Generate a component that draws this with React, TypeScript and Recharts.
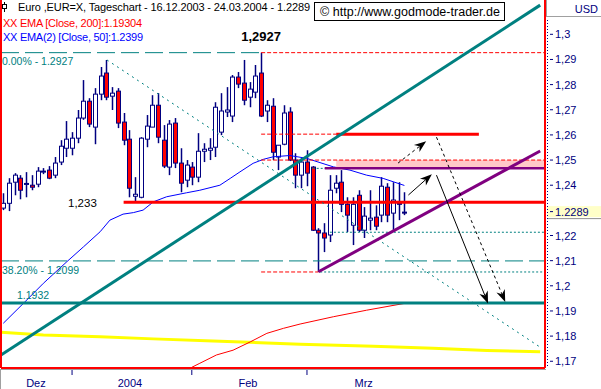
import React from 'react';
import {
  ComposedChart,
  Bar,
  Line,
  XAxis,
  YAxis,
  ReferenceLine,
  ReferenceArea,
  ReferenceDot,
} from 'recharts';

const W = 601;
const H = 389;

const NAVY = '#000080';
const TEAL = '#008080';
const RED = '#ff0000';
const PURPLE = '#800080';
const FONT = '"Liberation Sans", Arial, sans-serif';

// EUR/USD daily, 16.12.2003 - 24.03.2004 (x = trading day index)
const opens = [
  1.2309, 1.2328, 1.2412, 1.2428, 1.2405, 1.24, 1.2404, 1.2452, 1.246, 1.244,
  1.2492, 1.2547, 1.2547, 1.2587, 1.2667, 1.2734, 1.2631, 1.2762, 1.2846, 1.2754,
  1.2774, 1.2651, 1.2583, 1.2356, 1.2352, 1.2583, 1.2631, 1.2718, 1.2579, 1.2472,
  1.2647, 1.2488, 1.242, 1.2472, 1.2432, 1.2535, 1.2539, 1.2551, 1.2611, 1.2691,
  1.2675, 1.283, 1.2806, 1.275, 1.277, 1.2846, 1.2695, 1.2714, 1.2512, 1.2563,
  1.2691, 1.25, 1.244, 1.2492, 1.2472, 1.2221, 1.221, 1.2202, 1.2388, 1.2412,
  1.2324, 1.2241, 1.236, 1.2221, 1.2261, 1.2273, 1.2281, 1.2392, 1.2289, 1.2328,
  1.2293,
];
const highs = [
  1.2368, 1.2428, 1.2448, 1.244, 1.2452, 1.244, 1.2472, 1.2468, 1.2476, 1.2512,
  1.2579, 1.2655, 1.2611, 1.2699, 1.2818, 1.2746, 1.2786, 1.287, 1.2898, 1.279,
  1.2786, 1.2687, 1.2619, 1.2432, 1.2591, 1.2679, 1.2758, 1.2766, 1.2639, 1.2659,
  1.2667, 1.2547, 1.25, 1.2492, 1.2607, 1.2567, 1.2587, 1.273, 1.2766, 1.279,
  1.2838, 1.285, 1.2898, 1.281, 1.2878, 1.2927, 1.2738, 1.2746, 1.2559, 1.2718,
  1.271, 1.2527, 1.2508, 1.2539, 1.2476, 1.2229, 1.2249, 1.244, 1.244, 1.246,
  1.2352, 1.2352, 1.238, 1.2313, 1.238, 1.232, 1.2432, 1.2408, 1.2412, 1.2412,
  1.2372,
];
const lows = [
  1.2301, 1.2297, 1.236, 1.2344, 1.2352, 1.238, 1.2392, 1.2444, 1.2424, 1.2428,
  1.248, 1.2512, 1.2519, 1.2567, 1.266, 1.2631, 1.2563, 1.2738, 1.2738, 1.2699,
  1.2627, 1.2559, 1.2352, 1.2332, 1.2348, 1.2551, 1.2631, 1.2567, 1.2468, 1.244,
  1.2468, 1.2372, 1.2392, 1.24, 1.2412, 1.2492, 1.25, 1.2512, 1.2599, 1.2671,
  1.2651, 1.2786, 1.2718, 1.271, 1.2746, 1.2671, 1.2651, 1.25, 1.246, 1.2559,
  1.2496, 1.2388, 1.2388, 1.2396, 1.2218, 1.2055, 1.2134, 1.2174, 1.2368, 1.2293,
  1.2214, 1.2162, 1.2214, 1.219, 1.2221, 1.2221, 1.2253, 1.2253, 1.2221, 1.2261,
  1.2281,
];
const closes = [
  1.2328, 1.2408, 1.244, 1.238, 1.2407, 1.2392, 1.2456, 1.2456, 1.2428, 1.2488,
  1.2555, 1.2583, 1.2587, 1.2667, 1.2734, 1.2643, 1.2762, 1.2834, 1.275, 1.2766,
  1.2647, 1.2579, 1.2388, 1.2364, 1.2587, 1.2635, 1.2718, 1.2591, 1.2476, 1.2643,
  1.2488, 1.2408, 1.248, 1.2432, 1.2535, 1.2543, 1.2547, 1.271, 1.2695, 1.2699,
  1.283, 1.2802, 1.2738, 1.2782, 1.2834, 1.2675, 1.2718, 1.2531, 1.2559, 1.2687,
  1.25, 1.244, 1.2492, 1.2448, 1.2221, 1.221, 1.219, 1.238, 1.2408, 1.2324,
  1.2281, 1.2324, 1.2221, 1.2277, 1.2269, 1.2237, 1.2396, 1.2281, 1.2341, 1.2324,
  1.2289,
];

// moving averages and the long yellow line, read at day positions
const ema50X = [0, 3.5, 7, 11.1, 14, 16.9, 18.6, 20.9, 22.7, 24.4, 26.2, 28.5, 32, 34.3, 37.8, 39.6, 41.3, 43.6, 45.4, 47.1, 50, 52.9, 57.6, 60.5, 63.4, 66.3, 70];
const ema50V = [1.1851, 1.193, 1.201, 1.2096, 1.2155, 1.2215, 1.2261, 1.2285, 1.2291, 1.2301, 1.2334, 1.2354, 1.237, 1.238, 1.24, 1.2427, 1.2453, 1.2487, 1.2503, 1.2513, 1.2518, 1.2507, 1.2473, 1.246, 1.244, 1.2427, 1.2399];
const ema200X = [32.9, 34.3, 37.2, 40.1, 43.1, 46, 48.9, 51.8, 57.6, 63.4, 70];
const ema200V = [1.1676, 1.1692, 1.1725, 1.1744, 1.1777, 1.1811, 1.1831, 1.1848, 1.1877, 1.1903, 1.193];
const yellowX = [-0.4, 7, 16.9, 26.2, 36.6, 46, 51.8, 64.6, 75, 84.4, 93.7];
const yellowV = [1.1815, 1.1804, 1.1797, 1.1789, 1.1781, 1.1773, 1.1768, 1.176, 1.1752, 1.1743, 1.1738];

const yTicks = [1.17, 1.18, 1.19, 1.2, 1.21, 1.22, 1.24, 1.25, 1.26, 1.27, 1.28, 1.29, 1.3];
const monthStarts = [12, 32.9, 53];
const monthLabelPos = [5.7, 22.1, 42.7, 62.9];
const monthLabels = ['Dez', '2004', 'Feb', 'Mrz'];

const XMIN = -0.4;
const XMAX = 94.54;
const YMIN = 1.16732;
const YMAX = 1.31364;

const LAST = 1.2289;

const candles = opens.map((o, i) => ({ i, o, h: highs[i], l: lows[i], c: closes[i] }));
const ema50 = ema50X.map((i, k) => ({ i, v: ema50V[k] }));
const ema200 = ema200X.map((i, k) => ({ i, v: ema200V[k] }));
const yellow = yellowX.map((i, k) => ({ i, v: yellowV[k] }));

const Candle = (p: any) => {
  const { x, y, width, height, payload } = p;
  const top = Math.min(y, y + height);
  const bot = Math.max(y, y + height);
  const { o, h, l, c } = payload;
  const py = (v: number) => top + ((h - v) / (h - l)) * (bot - top);
  const cx = Math.round(x + width / 2) + 0.5;
  const bt = py(Math.max(o, c));
  const bb = py(Math.min(o, c));
  return (
    <g>
      <line x1={cx} x2={cx} y1={top} y2={bot} stroke={NAVY} strokeWidth={1.5} />
      <rect x={cx - 2} y={bt} width={4} height={Math.max(bb - bt, 1)} fill={c >= o ? '#fff' : RED} stroke={NAVY} strokeWidth={1} />
    </g>
  );
};

const XTick = (p: any) => {
  const { x, y, payload } = p;
  const k = monthLabelPos.indexOf(payload.value);
  if (k >= 0) {
    return (
      <text x={x} y={y + 19} textAnchor="middle" fill={NAVY} fontSize={11} fontFamily={FONT}>
        {monthLabels[k]}
      </text>
    );
  }
  return <line x1={x} x2={x} y1={y + 2} y2={y + 7} stroke={NAVY} />;
};

const YTick = (p: any) => {
  const { x, y, payload } = p;
  return (
    <g>
      <line x1={x + 5} x2={x + 8} y1={y} y2={y} stroke={NAVY} />
      <text x={x + 10} y={y + 4} fill={NAVY} fontSize={11} fontFamily={FONT}>
        {String(payload.value).replace('.', ',')}
      </text>
    </g>
  );
};

const arrow = (dashed: boolean) => (p: any) => {
  const { x1, y1, x2, y2 } = p;
  const len = Math.hypot(x2 - x1, y2 - y1);
  const ux = (x2 - x1) / len;
  const uy = (y2 - y1) / len;
  const L = 12;
  const w = 4.5;
  const bx = x2 - ux * L;
  const by = y2 - uy * L;
  const nx = x2 - ux * L * 0.7;
  const ny = y2 - uy * L * 0.7;
  const pts = `${x2},${y2} ${bx - uy * w},${by + ux * w} ${nx},${ny} ${bx + uy * w},${by - ux * w}`;
  return (
    <g>
      <line x1={x1} y1={y1} x2={nx} y2={ny} stroke="#000" strokeWidth={1} strokeDasharray={dashed ? '3 3' : undefined} />
      <polygon points={pts} fill="#000" />
    </g>
  );
};

const note =
  (text: string, color: string, dx: number, dy: number, size = 10.5, weight = 'normal', anchor = 'start') =>
  (p: any) => (
    <text x={p.cx + dx} y={p.cy + dy} fill={color} fontSize={size} fontWeight={weight} textAnchor={anchor} fontFamily={FONT}>
      {text}
    </text>
  );

const priceTag = (p: any) => (
  <g>
    <rect x={p.cx + 2} y={p.cy - 7} width={56} height={11} fill="#ffffc8" />
    <line x1={p.cx + 2} x2={p.cx + 58} y1={p.cy + 5.5} y2={p.cy + 5.5} stroke="#909090" />
    <line x1={p.cx + 5} x2={p.cx + 8} y1={p.cy - 1.5} y2={p.cy - 1.5} stroke={NAVY} />
    <text x={p.cx + 10} y={p.cy + 3} fill={NAVY} fontSize={11} fontFamily={FONT}>
      {String(LAST)}
    </text>
  </g>
);

const seg = (x1: number, x2: number, v: number) => [
  { x: x1, y: v },
  { x: x2, y: v },
];

export default function App() {
  return (
    <div style={{ position: 'absolute', left: 0, top: 0, width: W, height: H, background: '#fff' }}>
      <ComposedChart width={W} height={H} data={candles} margin={{ top: 0, right: 0, bottom: 0, left: 1 }}>
        <XAxis
          dataKey="i"
          type="number"
          domain={[XMIN, XMAX]}
          allowDataOverflow
          ticks={[...monthStarts, ...monthLabelPos]}
          interval={0}
          tick={<XTick />}
          tickLine={false}
          axisLine={false}
          tickSize={0}
          tickMargin={0}
          height={21}
        />
        <YAxis
          orientation="right"
          type="number"
          domain={[YMIN, YMAX]}
          allowDataOverflow
          ticks={yTicks}
          interval={0}
          tick={<YTick />}
          tickLine={false}
          axisLine={false}
          tickSize={0}
          tickMargin={0}
          width={56}
        />

        <ReferenceArea x1={58.1} x2={XMAX} y1={1.2471} y2={1.25} fill="#ffc8c8" fillOpacity={1} stroke="none" />

        <Line data={yellow} dataKey="v" type="linear" stroke="#ffff00" strokeWidth={3} dot={false} isAnimationActive={false} />
        <Line data={ema200} dataKey="v" type="linear" stroke={RED} strokeWidth={1} dot={false} isAnimationActive={false} />
        <Line data={ema50} dataKey="v" type="linear" stroke="#0000ff" strokeWidth={1} dot={false} isAnimationActive={false} />

        <ReferenceLine segment={seg(XMIN, 44.8, 1.2927)} stroke={TEAL} strokeDasharray="18 6" />
        <ReferenceLine segment={seg(45, XMAX, 1.2927)} stroke={RED} strokeDasharray="4 2" />
        <ReferenceLine segment={seg(45, 58.1, 1.2603)} stroke={RED} strokeDasharray="4 2" />
        <ReferenceLine segment={seg(58.1, 83, 1.2603)} stroke={RED} strokeWidth={3} />
        <ReferenceLine segment={seg(45, XMAX, 1.25)} stroke={RED} strokeDasharray="4 2" />
        <ReferenceLine segment={seg(54, XMAX, 1.2467)} stroke={TEAL} strokeDasharray="2 2" />
        <ReferenceLine segment={seg(56.1, XMAX, 1.2467)} stroke={PURPLE} strokeWidth={2.5} />
        <ReferenceLine segment={seg(21, XMAX, 1.2332)} stroke={RED} strokeWidth={3} />
        <ReferenceLine segment={seg(57, XMAX, 1.2213)} stroke={TEAL} strokeDasharray="2 2" />
        <ReferenceLine segment={seg(XMIN, XMAX, 1.2099)} stroke={TEAL} strokeDasharray="18 6" />
        <ReferenceLine segment={seg(45, 55, 1.2055)} stroke={RED} strokeDasharray="4 2" />
        <ReferenceLine segment={seg(55.3, XMAX, 1.2055)} stroke={TEAL} strokeDasharray="2 2" />
        <ReferenceLine segment={seg(XMIN, XMAX, 1.1932)} stroke={TEAL} strokeWidth={3} />

        <Bar dataKey={(d: any) => [d.l, d.h]} barSize={5} shape={Candle} isAnimationActive={false} />

        <ReferenceLine segment={[{ x: XMIN, y: 1.1725 }, { x: 93.7, y: 1.3116 }]} stroke={TEAL} strokeWidth={3} />
        <ReferenceLine segment={[{ x: 18.1, y: 1.2898 }, { x: 93.7, y: 1.1756 }]} stroke={TEAL} strokeDasharray="2 4" />
        <ReferenceLine segment={[{ x: 55, y: 1.2056 }, { x: 93.7, y: 1.2536 }]} stroke={PURPLE} strokeWidth={3} />

        <ReferenceLine segment={[{ x: 68.9, y: 1.2488 }, { x: 73.8, y: 1.2575 }]} shape={arrow(true)} />
        <ReferenceLine segment={[{ x: 70.7, y: 1.2361 }, { x: 74.8, y: 1.2444 }]} shape={arrow(false)} />
        <ReferenceLine segment={[{ x: 75.6, y: 1.2591 }, { x: 87.6, y: 1.1936 }]} shape={arrow(true)} />
        <ReferenceLine segment={[{ x: 75.6, y: 1.244 }, { x: 84.6, y: 1.193 }]} shape={arrow(false)} />

        <ReferenceLine x={XMIN} stroke={RED} strokeWidth={2} />
        <ReferenceLine x={XMAX} stroke={RED} strokeWidth={2} />
        <ReferenceLine y={YMIN} stroke={RED} strokeWidth={2} />

        <ReferenceDot x={XMIN} y={1.2927} shape={note('0.00% - 1.2927', TEAL, 1, 12)} />
        <ReferenceDot x={XMIN} y={1.2099} shape={note('38.20% - 1.2099', TEAL, 1, 13)} />
        <ReferenceDot x={XMIN} y={1.1932} shape={note('1.1932', TEAL, 16, -3.5)} />
        <ReferenceDot x={XMIN} y={1.2332} shape={note('1,233', '#000', 67, 4.5, 11.5)} />
        <ReferenceDot x={45} y={1.2927} shape={note('1,2927', '#000', 0, -12, 13, 'bold', 'middle')} />
        <ReferenceDot x={XMAX} y={LAST} ifOverflow="visible" shape={priceTag} />
      </ComposedChart>

      <svg width={W} height={H} style={{ position: 'absolute', left: 0, top: 0, pointerEvents: 'none' }}>
        <line x1={4.5} x2={4.5} y1={2} y2={12} stroke="#000" />
        <rect x={2.5} y={4.5} width={4} height={4} fill="#fff" stroke="#000" />
        <text x={18} y={11} fontSize={11} fontFamily={FONT} fill="#000" textLength={292}>
          Euro ,EUR=X, Tageschart - 16.12.2003 - 24.03.2004 - 1.2289
        </text>
        <text x={3} y={26.5} fontSize={11} fontFamily={FONT} fill={RED} textLength={139}>
          XX EMA [Close, 200]:1.19304
        </text>
        <text x={3} y={40.5} fontSize={11} fontFamily={FONT} fill="#0000ff" textLength={140}>
          XX EMA(2) [Close, 50]:1.2399
        </text>
        <rect x={314.5} y={2.5} width={190} height={18} fill="#fff" stroke="#000" />
        <text x={320} y={16} fontSize={12.5} fontFamily={FONT} fill="#000" textLength={180}>
          © http://www.godmode-trader.de
        </text>
        <line x1={546.5} x2={546.5} y1={0} y2={16} stroke="#a0a0a0" />
        <line x1={546} x2={601} y1={16.5} y2={16.5} stroke="#a0a0a0" />
        <text x={598} y={13} fontSize={11} fontFamily={FONT} fill={NAVY} textAnchor="end">
          USD
        </text>
        <line x1={547.5} x2={547.5} y1={20} y2={368} stroke={NAVY} strokeDasharray="1 2" />
        <line x1={0} x2={546} y1={369.5} y2={369.5} stroke="#a0a0a0" />
        <line x1={0.5} x2={0.5} y1={369} y2={389} stroke="#a0a0a0" />
      </svg>
    </div>
  );
}
